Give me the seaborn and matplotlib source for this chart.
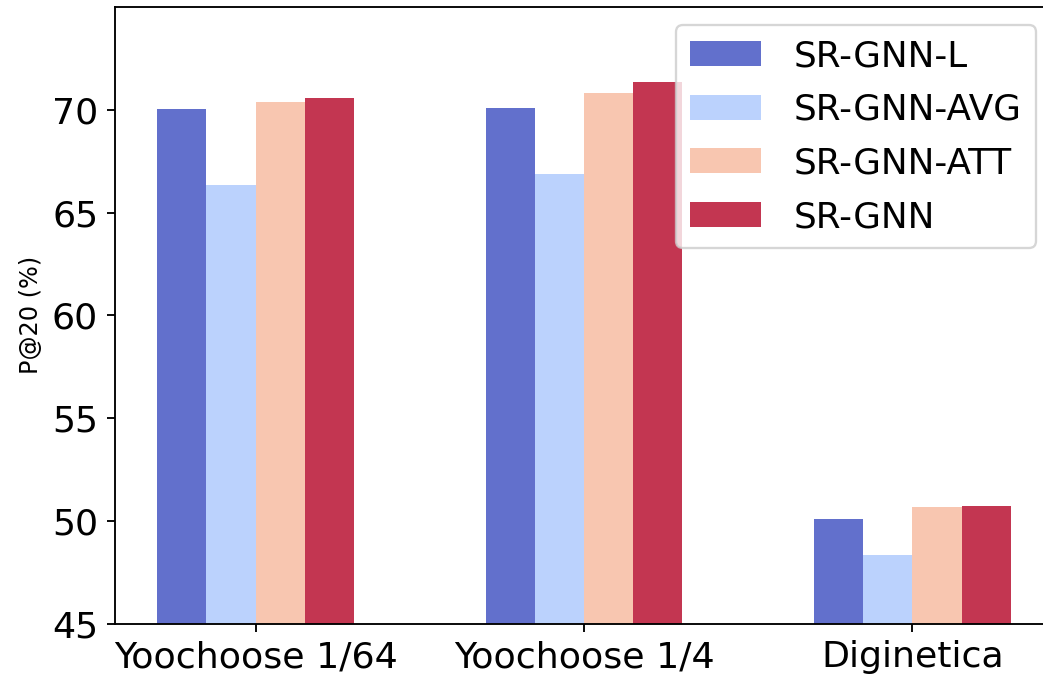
import matplotlib
matplotlib.use("Agg")
import matplotlib.pyplot as plt
import numpy as np
import pandas as pd
import seaborn as sns

# ---- data ----
datasets = ["Yoochoose 1/64", "Yoochoose 1/4", "Diginetica"]
models = ["SR-GNN-L", "SR-GNN-AVG", "SR-GNN-ATT", "SR-GNN"]
sr_gnn_l = [70.06, 70.11, 50.09]
sr_gnn_avg = [66.32, 66.86, 48.34]
sr_gnn_att = [70.36, 70.84, 50.67]
sr_gnn = [70.57, 71.36, 50.73]
y_ticks = [45, 50, 55, 60, 65, 70]

series = {"SR-GNN-L": sr_gnn_l, "SR-GNN-AVG": sr_gnn_avg,
          "SR-GNN-ATT": sr_gnn_att, "SR-GNN": sr_gnn}
rows = []
for m in models:
    for d, v in zip(datasets, series[m]):
        rows.append({"dataset": d, "model": m, "value": v})
df = pd.DataFrame(rows)

cmap = matplotlib.colormaps["coolwarm"]
palette = [cmap(x) for x in np.linspace(0, 1, 4)]

DPI = 168
fig = plt.figure(figsize=(1043 / DPI, 675 / DPI), dpi=DPI)
ax = fig.add_axes([114.5 / 1043, (675 - 623.7) / 675, 939 / 1043, (623.7 - 7) / 675])

sns.barplot(data=df, x="dataset", y="value", hue="model", order=datasets,
            hue_order=models, palette=palette, saturation=1, alpha=0.8,
            width=0.6, linewidth=0, ax=ax)

ax.set_xlim(-0.43, 2.43)
ax.set_ylim(45, 75)
ax.set_yticks(y_ticks)
ax.tick_params(axis="both", labelsize=15.6)
ax.set_xlabel("")
ax.set_ylabel("P@20 (%)", fontsize=10.3)
ax.legend(loc="upper right", fontsize=15.3, labelspacing=0.55,
          handletextpad=0.9)

fig.savefig("out.png", dpi=DPI)
